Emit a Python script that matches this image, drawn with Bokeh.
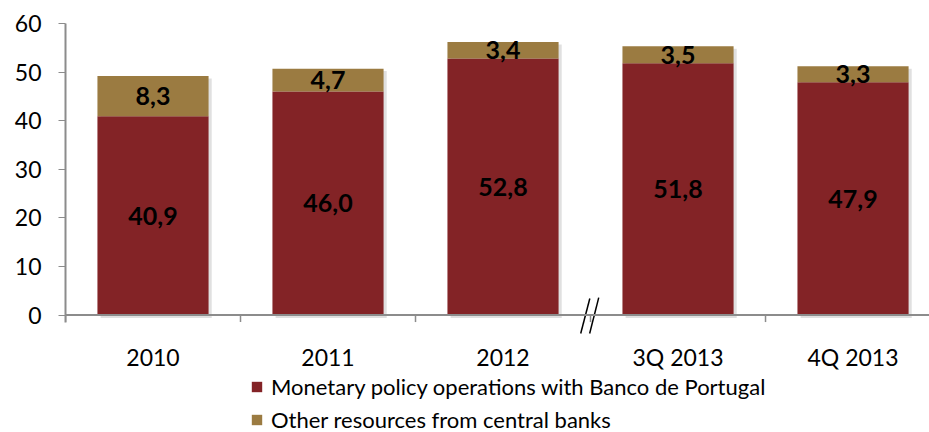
import math
from bokeh.plotting import figure
from bokeh.models import (ColumnDataSource, Range1d, FixedTicker, Legend, LegendItem, Span)
from bokeh.core.properties import value
from bokeh.embed import file_html
from bokeh.resources import INLINE

# Funding from central banks (EUR billion)
periods = ["2010", "2011", "2012", "3Q 2013", "4Q 2013"]
monetary_policy = [40.9, 46.0, 52.8, 51.8, 47.9]
other_resources = [8.3, 4.7, 3.4, 3.5, 3.3]
y_ticks = [0, 10, 20, 30, 40, 50, 60]

RED = "#832326"
TAN = "#9B7B41"
AX = "#8C8C8C"
FONT = "Lato"

xs = [i + 0.5 for i in range(len(periods))]
tops = [m + o for m, o in zip(monetary_policy, other_resources)]
fmt = lambda v: f"{v:.1f}".replace(".", ",")

src = ColumnDataSource(dict(
    x=xs,
    mp=monetary_policy,
    top=tops,
    mp_mid=[m / 2 for m in monetary_policy],
    ot_mid=[m + o / 2 for m, o in zip(monetary_policy, other_resources)],
    mp_lab=[fmt(v) for v in monetary_policy],
    ot_lab=[fmt(v) for v in other_resources],
    zero=[0] * len(periods),
    period=periods,
))

# the frame runs down to the bottom edge so the legend can sit beneath the bars
p = figure(width=929, height=432, output_backend="svg", toolbar_location=None,
           x_range=Range1d(0, 4.937), y_range=Range1d(-24.17, 60.0),
           x_axis_location=None)
p.min_border_left = 65
p.min_border_top = 23
p.min_border_right = 0
p.min_border_bottom = 0
p.outline_line_color = None
p.xgrid.visible = False
p.ygrid.visible = False
p.background_fill_color = "white"
p.border_fill_color = "white"

bw = 0.635
# soft drop shadow behind the stacks
p.vbar(x=[x + 0.018 for x in xs], bottom=[-0.6] * len(xs), top=[t - 0.5 for t in tops],
       width=bw, fill_color="#000000", fill_alpha=0.12, line_color=None)
r_mp = p.vbar(x="x", bottom="zero", top="mp", width=bw, source=src,
              fill_color=RED, line_color=None)
r_ot = p.vbar(x="x", bottom="mp", top="top", width=bw, source=src,
              fill_color=TAN, line_color=None)

p.text(x="x", y="mp_mid", text="mp_lab", source=src, text_align="center",
       text_baseline="middle", text_font=value(FONT), text_font_style="bold",
       text_font_size="25px", text_color="black")
p.text(x="x", y="ot_mid", text="ot_lab", source=src, text_align="center",
       text_baseline="middle", text_font=value(FONT), text_font_style="bold",
       text_font_size="25px", text_color="black")

# category axis drawn at zero: base line, boundary ticks and period labels
p.add_layout(Span(location=0, dimension="width", line_color=AX, line_width=2))
p.ray(x=list(range(len(periods) + 1)), y=[0] * (len(periods) + 1), length=7,
      length_units="screen", angle=-math.pi / 2, line_color=AX, line_width=1.5)
p.text(x="x", y="zero", text="period", source=src, y_offset=42,
       text_align="center", text_baseline="alphabetic", text_font=value(FONT),
       text_font_size="23px", text_color="black")

# axis break marker between 2012 and 3Q 2013
p.segment(x0=[2.944, 2.995], y0=[-3.8, -3.8], x1=[2.996, 3.047], y1=[3.4, 3.6],
          line_color="black", line_width=1.5)

ya = p.yaxis[0]
ya.ticker = FixedTicker(ticks=y_ticks)
ya.bounds = (-1.5, 60)
ya.major_tick_out = 7
ya.major_tick_in = 0
ya.minor_tick_out = 0
ya.major_tick_line_color = AX
ya.axis_line_color = AX
ya.axis_line_width = 2
ya.major_label_standoff = 17
ya.major_label_text_font = FONT
ya.major_label_text_font_size = "23px"
ya.major_label_text_color = "black"

legend = Legend(items=[
    LegendItem(label="Monetary policy operations with Banco de Portugal", renderers=[r_mp]),
    LegendItem(label="Other resources from central banks", renderers=[r_ot]),
], location=(185, -1), orientation="vertical")
legend.label_text_font = FONT
legend.label_text_font_size = "22px"
legend.label_text_color = "black"
legend.glyph_width = 13
legend.glyph_height = 13
legend.label_standoff = 8
legend.label_height = 24
legend.spacing = 6
legend.padding = 0
legend.margin = 0
legend.border_line_color = None
legend.background_fill_alpha = 0
p.add_layout(legend, "center")

open("out.html", "w").write(file_html(p, INLINE))
